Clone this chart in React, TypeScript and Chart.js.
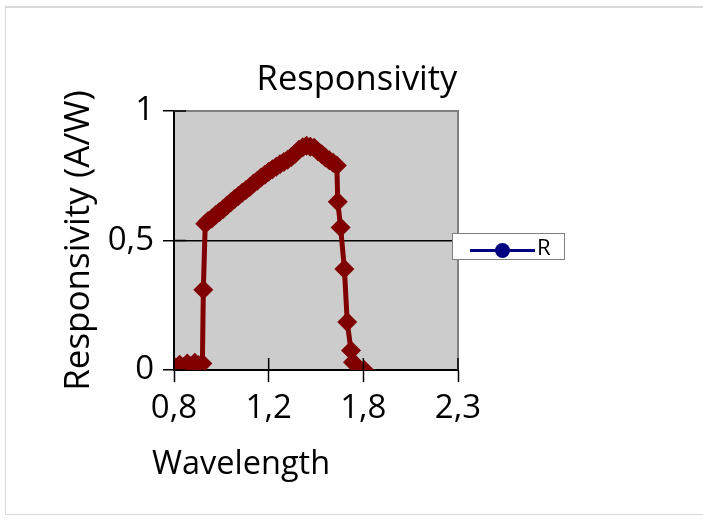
import { useEffect, useRef } from 'react';
import { Chart, registerables } from 'chart.js';

Chart.register(...registerables);

const TITLE = 'Responsivity';
const X_TITLE = 'Wavelength';
const Y_TITLE = 'Responsivity (A/W)';
const SERIES_NAME = 'R';

const WAVELENGTH = [
  0.76, 0.78, 0.8, 0.82, 0.84, 0.86, 0.88, 0.9, 0.905, 0.915,
  0.93, 0.95, 0.97, 0.99, 1.01, 1.03, 1.05, 1.07, 1.09, 1.11,
  1.13, 1.15, 1.17, 1.19, 1.21, 1.23, 1.25, 1.27, 1.29, 1.31,
  1.33, 1.35, 1.37, 1.39, 1.41, 1.43, 1.45, 1.47, 1.49, 1.51,
  1.53, 1.55, 1.57, 1.59, 1.61, 1.615, 1.63, 1.65, 1.665, 1.685,
  1.695, 1.755,
];
const RESPONSIVITY = [
  0.01, 0.02, 0.012, 0.025, 0.015, 0.028, 0.018, 0.025, 0.31, 0.565,
  0.575, 0.585, 0.598, 0.61, 0.622, 0.635, 0.648, 0.66, 0.672, 0.684,
  0.695, 0.707, 0.72, 0.731, 0.743, 0.754, 0.765, 0.775, 0.785, 0.794,
  0.803, 0.812, 0.822, 0.835, 0.85, 0.86, 0.866, 0.862, 0.858, 0.845,
  0.833, 0.82, 0.81, 0.8, 0.79, 0.65, 0.55, 0.39, 0.185, 0.075,
  0.03, 0,
];

const X_MIN = 0.75;
const X_MAX = 2.25;
const X_TICK_VALUES = [0.75, 1.25, 1.75, 2.25];
const X_TICK_LABELS = ['0,8', '1,2', '1,8', '2,3'];
const Y_TICK_VALUES = [0, 0.5, 1];
const Y_TICK_LABELS = ['0', '0,5', '1'];

const FONT = '"Open Sans", "Noto Sans", sans-serif';
const RED = '#800000';
const NAVY = '#000080';
const PLOT_BG = '#cccccc';
const FRAME = '#808080';

const plotDecor = {
  id: 'plotDecor',
  beforeDraw(chart: any) {
    const { ctx, chartArea: a } = chart;
    ctx.save();
    ctx.fillStyle = PLOT_BG;
    ctx.fillRect(a.left, a.top, a.right - a.left, a.bottom - a.top);
    ctx.restore();
  },
  afterDraw(chart: any) {
    const { ctx, chartArea: a } = chart;
    ctx.save();
    ctx.strokeStyle = FRAME;
    ctx.lineWidth = 2;
    ctx.beginPath();
    ctx.moveTo(a.left, a.top);
    ctx.lineTo(a.right, a.top);
    ctx.lineTo(a.right, a.bottom);
    ctx.stroke();
    ctx.strokeStyle = '#000';
    ctx.lineWidth = 1.5;
    const xs = chart.scales.x;
    xs.ticks.forEach((t: any) => {
      const px = xs.getPixelForValue(t.value);
      ctx.beginPath();
      ctx.moveTo(px, a.bottom - 12);
      ctx.lineTo(px, a.bottom);
      ctx.stroke();
    });
    const ys = chart.scales.y;
    ys.ticks.forEach((t: any) => {
      const py = ys.getPixelForValue(t.value);
      ctx.beginPath();
      ctx.moveTo(a.left, py);
      ctx.lineTo(a.left + 12, py);
      ctx.stroke();
    });
    ctx.fillStyle = '#000';
    ctx.font = `32.5px ${FONT}`;
    ctx.textAlign = 'left';
    ctx.textBaseline = 'alphabetic';
    ctx.fillText(X_TITLE, a.left - 22, a.bottom + 104);
    ctx.restore();
  },
};

export default function App() {
  const canvasRef = useRef<HTMLCanvasElement | null>(null);

  useEffect(() => {
    if (!canvasRef.current) return;
    const points = WAVELENGTH.map((x, i) => ({ x, y: RESPONSIVITY[i] }));
    const chart = new Chart(canvasRef.current, {
      type: 'scatter',
      data: {
        datasets: [
          {
            label: SERIES_NAME,
            data: points,
            showLine: true,
            borderColor: RED,
            backgroundColor: RED,
            borderWidth: 5,
            pointStyle: 'rectRot',
            pointRadius: 10,
            pointHoverRadius: 10,
            pointBorderWidth: 0,
            pointBackgroundColor: RED,
          },
        ],
      },
      options: {
        animation: false,
        responsive: true,
        maintainAspectRatio: false,
        events: [],
        layout: { padding: { left: 11, top: 0, right: 0, bottom: 0 } },
        plugins: {
          legend: { display: false },
          tooltip: { enabled: false },
          title: {
            display: true,
            text: TITLE,
            color: '#000',
            font: { family: FONT, size: 34.5, weight: 'normal', lineHeight: 1.2 },
            padding: { top: 59, bottom: 10.6 },
          },
        },
        scales: {
          x: {
            type: 'linear',
            min: X_MIN,
            max: X_MAX,
            afterBuildTicks: (s: any) => {
              s.ticks = X_TICK_VALUES.map((v) => ({ value: v }));
            },
            afterFit: (s: any) => {
              s.height = 156;
            },
            ticks: {
              callback: (_v: any, i: number) => X_TICK_LABELS[i],
              color: '#000',
              font: { family: FONT, size: 33 },
              padding: 7,
              maxRotation: 0,
              autoSkip: false,
            },
            grid: {
              drawOnChartArea: false,
              drawTicks: true,
              tickLength: 12,
              tickColor: '#000',
              tickWidth: 1.5,
            },
            border: { color: '#000', width: 2 },
          },
          y: {
            type: 'linear',
            min: 0,
            max: 1,
            afterBuildTicks: (s: any) => {
              s.ticks = Y_TICK_VALUES.map((v) => ({ value: v }));
            },
            afterFit: (s: any) => {
              s.width = 163;
            },
            ticks: {
              callback: (_v: any, i: number) => Y_TICK_LABELS[i],
              color: '#000',
              font: { family: FONT, size: 33 },
              padding: 9,
            },
            grid: {
              color: (c: any) => (c.tick && c.tick.value === 1 ? 'rgba(0,0,0,0)' : '#000'),
              lineWidth: 1.5,
              drawTicks: true,
              tickLength: 11,
              tickColor: '#000',
              tickWidth: 1.5,
            },
            border: { color: '#000', width: 2 },
            title: {
              display: true,
              text: Y_TITLE,
              color: '#000',
              font: { family: FONT, size: 35, lineHeight: 1.2 },
              padding: { top: 47.4, bottom: 0 },
            },
          },
          yr: {
            type: 'linear',
            position: 'right',
            display: true,
            ticks: { display: false },
            grid: { display: false },
            border: { display: false },
            afterFit: (s: any) => {
              s.width = 245;
            },
          },
        },
      },
      plugins: [plotDecor],
    } as any);
    return () => chart.destroy();
  }, []);

  return (
    <div style={{ position: 'fixed', left: 0, top: 0, width: 703, height: 526, background: '#fff', overflow: 'hidden' }}>
      <div
        style={{
          position: 'absolute',
          left: 5,
          top: 6,
          width: 720,
          height: 509,
          borderTop: '2px solid #d9d9d9',
          borderLeft: '1px solid #d9d9d9',
          borderBottom: '1px solid #d9d9d9',
          boxSizing: 'border-box',
        }}
      />
      <div style={{ position: 'absolute', left: 0, top: 0, width: 703, height: 526 }}>
        <canvas ref={canvasRef} />
      </div>
      <div
        style={{
          position: 'absolute',
          left: 452,
          top: 233,
          width: 113,
          height: 27,
          boxSizing: 'border-box',
          background: '#fff',
          border: '1px solid #808080',
        }}
      >
        <div style={{ position: 'absolute', left: 17, top: 14.5, width: 65, height: 3, background: NAVY }} />
        <div
          style={{
            position: 'absolute',
            left: 42,
            top: 8.5,
            width: 15,
            height: 15,
            borderRadius: '50%',
            background: NAVY,
          }}
        />
        <div
          style={{
            position: 'absolute',
            left: 84,
            top: 1,
            fontFamily: FONT,
            fontSize: 22,
            lineHeight: '22px',
            color: '#000',
          }}
        >
          {SERIES_NAME}
        </div>
      </div>
    </div>
  );
}
